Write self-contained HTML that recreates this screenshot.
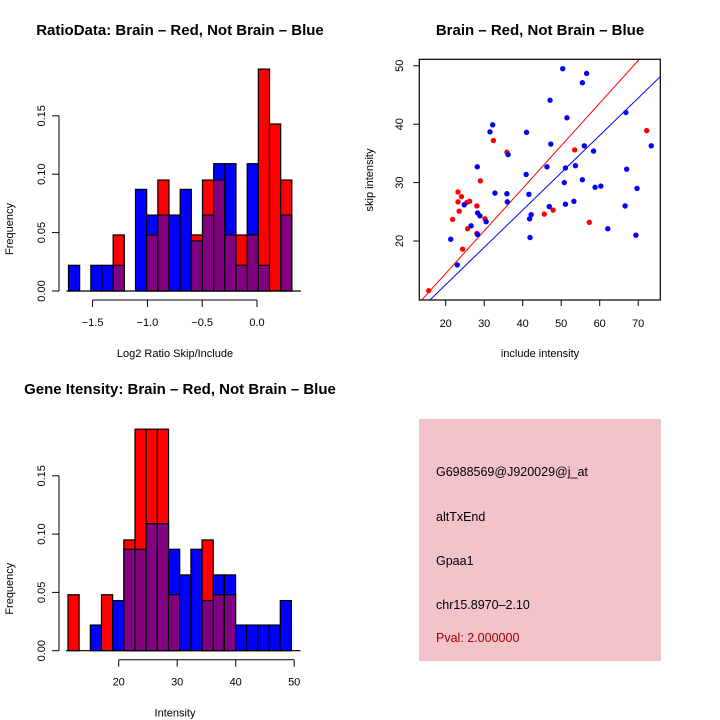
<!DOCTYPE html>
<html><head><meta charset="utf-8"><style>
body{margin:0;background:#fff}
svg{display:block;font-family:"Liberation Sans",sans-serif}
</style></head><body>
<svg id="c" width="720" height="720" viewBox="0 0 720 720">
<text x="180" y="35" text-anchor="middle" font-size="15" font-weight="bold">RatioData: Brain – Red, Not Brain – Blue</text>
<text x="540" y="35" text-anchor="middle" font-size="15" font-weight="bold">Brain – Red, Not Brain – Blue</text>
<text x="180" y="394" text-anchor="middle" font-size="15" font-weight="bold">Gene Itensity: Brain – Red, Not Brain – Blue</text>
<g>
<rect x="419" y="419" width="242" height="242" fill="#f3c3cb"/>
<g font-size="12.5">
<text x="436" y="476">G6988569@J920029@j_at</text>
<text x="436" y="521">altTxEnd</text>
<text x="436" y="565">Gpaa1</text>
<text x="436" y="609">chr15.8970–2.10</text>
<text x="436" y="642" fill="#a00000">Pval: 2.000000</text>
</g></g>
</svg>
<script>
// Ratio histogram data (bins of width 0.1 starting -1.72)
const ratioBlue=[0.022,0,0.022,0.022,0.022,0,0.087,0.065,0.065,0.065,0.087,0.043,0.065,0.109,0.109,0.022,0.109,0.022,0,0.065];
const ratioRed=[0,0,0,0,0.048,0,0,0.048,0.095,0,0,0.048,0.095,0.095,0.048,0.048,0.048,0.19,0.143,0.095];
const ratioTicks=[-1.5,-1.0,-0.5,0.0];
const ratioTickLabels=["−1.5","−1.0","−0.5","0.0"];
// Intensity histogram data (bins of width ~1.91 starting 11.33)
const intBlue=[0,0,0.022,0,0.043,0.087,0.087,0.109,0.109,0.087,0.065,0.087,0.043,0.065,0.065,0.022,0.022,0.022,0.022,0.043];
const intRed=[0.048,0,0,0.048,0,0.095,0.19,0.19,0.19,0.048,0,0,0.095,0.048,0.048,0,0,0,0,0];
const intTicks=[20,30,40,50];
const freqTicks=[0,0.05,0.10,0.15];
const freqTickLabels=["0.00","0.05","0.10","0.15"];
// Scatter data
const redX=[15.6,21.8,23.2,23.2,23.5,24.1,24.4,25.7,26.2,25.5,28.1,28.1,29.0,30.2,32.4,35.9,45.6,47.9,53.5,57.3,72.2];
const redY=[11.5,23.7,28.4,26.7,25.1,27.6,18.6,22.1,26.8,26.6,26.0,21.3,30.3,23.8,37.2,35.2,24.6,25.3,35.6,23.2,38.9];
const blueX=[21.3,23.0,24.8,26.6,28.2,28.3,28.9,28.3,30.5,31.5,32.2,32.8,35.9,36.0,36.2,41.0,40.9,41.6,41.8,42.2,41.9,46.3,46.9,47.1,47.3,50.4,50.8,51.1,51.1,51.5,53.3,53.7,55.5,55.5,56.6,56.0,58.4,58.8,60.3,62.1,66.6,66.8,67.0,69.4,69.7,73.4];
const blueY=[20.3,15.9,26.2,22.6,32.7,24.8,24.3,21.1,23.3,38.7,39.9,28.2,28.1,26.7,34.8,38.6,31.4,28.0,23.8,24.5,20.6,32.7,25.9,44.1,36.6,49.5,30.0,32.5,26.3,41.1,26.8,32.9,47.1,30.5,48.7,36.3,35.4,29.2,29.4,22.1,26.0,42.0,32.3,21.0,29.0,36.3];
const scatterXTicks=[20,30,40,50,60,70];
const scatterYTicks=[20,30,40,50];
const redSlope=0.729, redIntercept=-0.14, blueSlope=0.639, blueIntercept=-0.26;

const svg=document.getElementById('c');
const NS='http://www.w3.org/2000/svg';
function mk(tag,attrs,parent){const e=document.createElementNS(NS,tag);for(const k in attrs)e.setAttribute(k,attrs[k]);(parent||svg).appendChild(e);return e;}

function hist(o){
  const g=mk('g',{});
  
  
  const y=v=>o.y0-v*o.yPer;
  const x=v=>o.xPix0+(v-o.xVal0)*o.xPer;
  for(let i=0;i<o.blue.length;i++){
    const b=o.blue[i],r=o.red[i];
    const x0=x(o.binStart+i*o.binW),w=o.binW*o.xPer;
    const hi=Math.max(b,r),lo=Math.min(b,r);
    if(hi<=0)continue;
    const rc=mk('rect',{x:x0,y:y(hi),width:w,height:hi*o.yPer,fill:b>=r?'#0000ff':'#ff0000',stroke:'#000','stroke-width':1.2},g);
    
    
    if(lo>0){
      const pc=mk('rect',{x:x0,y:y(lo),width:w,height:lo*o.yPer,fill:'#800080',stroke:'#000','stroke-width':1.2},g);
      
      
    }
  }
  const bl=mk('line',{x1:x(o.binStart)-2,x2:x(o.binStart+o.blue.length*o.binW)+9,y1:o.y0,y2:o.y0,stroke:'#000','stroke-width':1.2},g);
  
  const ya=mk('g',{},g);
  
  mk('line',{x1:59,x2:59,y1:y(0),y2:y(0.15),stroke:'#000'},ya);
  freqTicks.forEach((t,i)=>{
    mk('line',{x1:52,x2:59,y1:y(t),y2:y(t),stroke:'#000'},ya);
    const tx=mk('text',{x:0,y:0,transform:`translate(45,${y(t)}) rotate(-90)`,'text-anchor':'middle','font-size':11},ya);
    tx.textContent=freqTickLabels[i];
    
  });
  const yt=mk('text',{transform:`translate(13,${o.y0-62}) rotate(-90)`,'text-anchor':'middle','font-size':11},g);
  yt.textContent='Frequency';
  
  const xa=mk('g',{},g);
  
  const ay=o.y0+9;
  mk('line',{x1:x(o.ticks[0]),x2:x(o.ticks[o.ticks.length-1]),y1:ay,y2:ay,stroke:'#000'},xa);
  o.ticks.forEach((t,i)=>{
    mk('line',{x1:x(t),x2:x(t),y1:ay,y2:ay+7,stroke:'#000'},xa);
    const tx=mk('text',{x:x(t),y:ay+26,'text-anchor':'middle','font-size':11},xa);
    tx.textContent=o.labels[i];
    
  });
  const xt=mk('text',{x:175,y:o.y0+66,'text-anchor':'middle','font-size':11},g);
  xt.textContent=o.xTitle;
  
}
hist({name:'ratio-histogram',blue:ratioBlue,red:ratioRed,binStart:-1.72,binW:0.1019,xVal0:0,xPix0:257,xPer:109.6,y0:291,yPer:1168,ticks:ratioTicks,labels:ratioTickLabels,xTitle:'Log2 Ratio Skip/Include'});
hist({name:'intensity-histogram',blue:intBlue,red:intRed,binStart:11.33,binW:1.91,xVal0:20,xPix0:118.7,xPer:5.85,y0:650.7,yPer:1166,ticks:intTicks,labels:intTicks.map(String),xTitle:'Intensity'});

(function(){
  const g=mk('g',{});
  
  const L=419.3,R=660.3,T=59.3,B=300;
  const sx=v=>445.7+(v-20)*3.85, sy=v=>241-(v-20)*5.84;
  const cp=mk('clipPath',{id:'sc'},g);mk('rect',{x:L,y:T,width:R-L,height:B-T},cp);
  [[redSlope,redIntercept,'#ff0000','red-fit-line'],[blueSlope,blueIntercept,'#0000ff','blue-fit-line']].forEach(a=>{
    const x1=10,x2=80;
    const ln=mk('line',{x1:sx(x1),y1:sy(a[0]*x1+a[1]),x2:sx(x2),y2:sy(a[0]*x2+a[1]),stroke:a[2],'stroke-width':1,'clip-path':'url(#sc)'},g);
    
  });
  redX.forEach((v,i)=>{const c=mk('circle',{cx:sx(v),cy:sy(redY[i]),r:2.7,fill:'#ff0000'},g);
    });
  blueX.forEach((v,i)=>{const c=mk('circle',{cx:sx(v),cy:sy(blueY[i]),r:2.7,fill:'#0000ff'},g);
    });
  const fr=mk('rect',{x:L,y:T,width:R-L,height:B-T,fill:'none',stroke:'#000','stroke-width':1.2},g);
  
  scatterXTicks.forEach(t=>{
    mk('line',{x1:sx(t),x2:sx(t),y1:B,y2:B+6,stroke:'#000'},g);
    const tx=mk('text',{x:sx(t),y:B+27,'text-anchor':'middle','font-size':11},g);
    tx.textContent=t;
  });
  scatterYTicks.forEach(t=>{
    mk('line',{x1:L-6,x2:L,y1:sy(t),y2:sy(t),stroke:'#000'},g);
    const tx=mk('text',{transform:`translate(403,${sy(t)}) rotate(-90)`,'text-anchor':'middle','font-size':11},g);
    tx.textContent=t;
  });
  const xt=mk('text',{x:540,y:357,'text-anchor':'middle','font-size':11},g);
  xt.textContent='include intensity';
  const yt=mk('text',{transform:'translate(373,180) rotate(-90)','text-anchor':'middle','font-size':11},g);
  yt.textContent='skip intensity';
})();
</script>
</body></html>
